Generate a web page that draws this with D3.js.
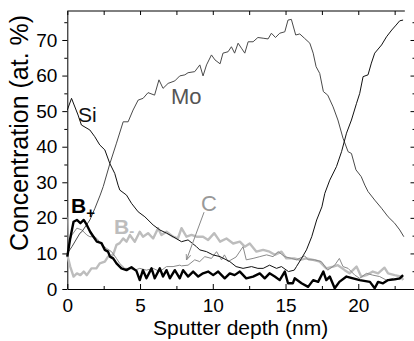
<!DOCTYPE html>
<html>
<head>
<meta charset="utf-8">
<script src="https://cdn.jsdelivr.net/npm/d3@7"></script>
<style>
  body { margin: 0; background: #fff; }
  svg { display: block; font-family: "Liberation Sans", Arial, sans-serif; }
</style>
</head>
<body>
<div id="chart"></div>
<script>
// depth (nm), concentration (at. %)
const siData = [[0,50.3],[0.29,53.6],[0.74,48.9],[0.97,46.1],[1.55,44.7],[1.89,42.8],[2.23,40.5],[2.58,39.1],[2.92,35.3],[3.26,32.5],[3.49,29.2],[3.61,27.8],[4.07,26.4],[4.41,24.1],[4.87,21.7],[5.33,20.3],[5.9,18.0],[6.36,16.6],[6.82,15.7],[7.27,14.7],[7.85,13.3],[8.3,13.8],[8.88,11.9],[9.1,11.0],[9.57,10.5],[10.0,9.6],[10.5,9.1],[11.17,7.7],[11.6,6.3],[12.08,5.8],[12.66,6.3],[13.1,5.8],[13.46,5.8],[13.9,6.7],[14.38,5.8],[14.72,6.3],[15.2,4.9],[15.6,5.3],[15.75,6.3],[16.1,8.6],[16.44,11.0],[16.8,14.7],[17.14,19.4],[17.5,23.1],[17.7,26.9],[18.04,30.6],[18.5,34.4],[18.85,38.6],[19.19,43.8],[19.53,47.5],[19.88,52.2],[20.1,55.0],[20.33,59.7],[20.67,60.2],[20.9,63.5],[21.13,66.3],[21.6,68.6],[21.94,70.9],[22.3,72.8],[22.6,74.2],[22.85,75.4],[23.08,75.6]];

const moData = [[0,10.0],[0.32,11.9],[0.87,15.7],[1.0,16.1],[1.55,19.4],[1.9,22.7],[2.26,26.4],[2.47,28.8],[2.93,35.3],[3.38,41.0],[3.84,47.0],[4.18,47.0],[4.52,50.3],[4.87,53.1],[5.21,53.6],[5.55,55.2],[6.0,54.5],[6.3,58.8],[6.58,56.4],[6.93,57.8],[7.39,58.5],[7.73,59.9],[8.08,60.2],[8.3,60.8],[8.76,61.1],[9.11,63.0],[9.33,59.9],[9.57,63.0],[9.91,65.8],[10.15,64.4],[10.5,63.3],[10.7,66.3],[11.05,66.7],[11.28,68.1],[11.5,66.3],[11.74,69.1],[11.97,67.7],[12.2,66.3],[12.43,69.5],[12.77,69.5],[13.1,70.7],[13.46,70.5],[13.8,70.3],[14.03,71.9],[14.31,70.7],[14.6,71.9],[14.95,72.3],[15.17,75.6],[15.4,75.8],[15.7,71.4],[15.98,71.7],[16.3,70.5],[16.67,69.1],[16.9,66.3],[17.1,62.5],[17.35,60.6],[17.6,55.5],[17.9,54.5],[18.27,51.2],[18.6,47.5],[18.95,42.4],[19.3,38.6],[19.53,38.1],[19.84,33.5],[20.2,31.6],[20.45,29.2],[20.67,27.4],[21.13,25.0],[21.6,22.7],[22.05,20.3],[22.5,18.5],[22.85,16.6],[23.13,14.7]];

const cData = [[0,20.3],[0.08,12.4],[0.32,15.2],[0.66,17.1],[1.0,16.6],[1.34,15.2],[1.55,14.7],[1.9,14.7],[2.12,13.8],[2.35,12.4],[2.7,11.4],[3.04,10.5],[3.38,8.6],[3.6,7.2],[3.95,5.8],[4.3,5.8],[4.64,5.3],[4.98,5.8],[5.44,5.3],[5.9,5.8],[6.36,4.9],[6.82,6.3],[7.27,6.3],[7.73,6.7],[7.85,6.5],[8.3,6.7],[8.76,8.2],[9.1,7.7],[9.45,9.1],[9.91,8.6],[10.26,10.5],[10.6,8.2],[10.8,9.6],[11.05,7.7],[11.6,9.0],[12.08,11.9],[12.3,8.2],[12.77,8.6],[13.23,9.1],[13.7,9.6],[14.14,9.1],[14.49,10.5],[14.95,9.1],[15.4,8.6],[15.75,8.2],[16.32,9.3],[16.55,8.2],[17.0,8.2],[17.46,7.7],[17.9,5.3],[18.38,6.7],[18.7,8.6],[18.95,6.3],[19.3,5.8],[19.76,3.9],[20.1,3.0],[20.56,4.4],[21.0,3.9],[21.47,3.5],[21.93,2.5],[22.4,3.0],[22.85,2.7],[23.08,3.5]];

const bMinusData = [[0,9.6],[0.2,6.3],[0.43,3.5],[0.66,4.4],[0.9,3.9],[1.13,4.9],[1.34,3.9],[1.66,5.8],[2.0,5.8],[2.23,7.2],[2.58,7.7],[2.8,9.1],[3.15,9.6],[3.38,12.4],[3.6,12.9],[3.84,14.2],[4.07,13.3],[4.3,15.2],[4.64,13.3],[4.98,16.1],[5.2,14.7],[5.55,15.7],[5.9,14.2],[6.24,17.1],[6.47,15.2],[6.82,16.1],[7.27,14.7],[7.6,14.2],[7.85,17.1],[8.19,14.7],[8.54,15.2],[8.88,14.7],[9.33,14.7],[9.68,13.8],[10.1,15.7],[10.5,13.3],[10.94,14.2],[11.4,12.8],[11.86,13.3],[12.2,11.9],[12.54,12.8],[13.0,10.5],[13.46,11.0],[13.9,10.5],[14.26,9.6],[14.72,10.5],[15.05,8.6],[15.6,8.6],[15.98,8.2],[16.44,8.6],[16.9,8.2],[17.35,7.7],[17.8,5.8],[18.27,6.3],[18.6,6.7],[19.07,5.3],[19.4,4.4],[19.88,6.3],[20.2,3.5],[20.56,3.9],[21.0,4.9],[21.36,4.4],[21.8,6.0],[22.05,4.4],[22.5,3.9],[22.96,3.5],[23.08,2.5]];

const bPlusData = [[0,9.1],[0.2,14.2],[0.43,18.9],[0.66,19.4],[0.9,18.5],[1.13,19.4],[1.34,18.0],[1.57,16.1],[1.8,14.7],[2.03,13.3],[2.35,12.9],[2.58,11.0],[2.8,10.5],[2.93,9.1],[3.15,8.6],[3.38,7.2],[3.72,5.8],[4.07,5.3],[4.41,6.1],[4.75,5.1],[4.98,2.5],[5.2,5.3],[5.44,3.0],[5.79,5.8],[6.01,3.0],[6.36,5.8],[6.58,3.5],[6.82,5.3],[7.05,3.0],[7.39,5.3],[7.73,3.0],[7.96,5.3],[8.3,3.5],[8.65,4.9],[9.0,3.5],[9.33,4.4],[9.68,4.9],[10.03,3.9],[10.37,4.9],[10.82,3.0],[11.17,4.4],[11.5,3.9],[11.86,4.9],[12.3,3.0],[12.77,3.5],[13.23,4.4],[13.57,3.0],[13.9,4.4],[14.26,3.5],[14.6,2.5],[14.95,4.9],[15.17,1.6],[15.5,1.6],[15.63,3.0],[16.1,1.6],[16.55,0.6],[16.9,2.5],[17.24,2.0],[17.6,4.9],[17.8,2.5],[18.04,3.5],[18.38,0.2],[18.7,2.0],[19.19,3.5],[19.64,3.0],[20.1,2.5],[20.8,2.0],[21.13,0.2],[21.36,2.0],[21.7,1.6],[22.05,2.5],[22.5,2.7],[22.85,3.0],[23.08,3.9]];

const xMajor = [0, 5, 10, 15, 20];
const xMinor = [2.5, 7.5, 12.5, 17.5, 22.5];
const yMajor = [0, 10, 20, 30, 40, 50, 60, 70];
const yMinor = [5, 15, 25, 35, 45, 55, 65, 75];

const width = 414, height = 341;
const margin = {left: 67.3, right: 414, top: 11, bottom: 289};

const svg = d3.select("#chart").append("svg")
    .attr("width", width)
    .attr("height", height);

const x = d3.scaleLinear().domain([0, 23.83]).range([margin.left, margin.right]);
const y = d3.scaleLinear().domain([0, 78.15]).range([margin.bottom, margin.top]);

// Axes
const tickFont = "19px";

const gLeft = svg.append("g").attr("transform", `translate(${margin.left},0)`);
gLeft.call(d3.axisLeft(y).tickValues(yMajor).tickSize(5).tickSizeOuter(0).tickPadding(5));
gLeft.append("g").call(d3.axisLeft(y).tickValues(yMinor).tickSize(3).tickFormat("")).select(".domain").remove();

const gBottom = svg.append("g").attr("transform", `translate(0,${margin.bottom})`);
gBottom.call(d3.axisBottom(x).tickValues(xMajor).tickSize(-5).tickSizeOuter(0).tickPadding(10));
gBottom.append("g").call(d3.axisBottom(x).tickValues(xMinor).tickSize(-3).tickFormat("")).select(".domain").remove();

const gTop = svg.append("g").attr("transform", `translate(0,${margin.top})`);
gTop.call(d3.axisTop(x).tickValues(xMajor.concat(xMinor)).tickSize(-4).tickFormat(""));
gTop.select(".domain").remove();
gTop.append("line")
    .attr("x1", x(0)).attr("x2", x(23.2))
    .attr("stroke", "#000").attr("stroke-width", 1);

const gRight = svg.append("g").attr("transform", `translate(${margin.right + 0.5},0)`);
gRight.call(d3.axisRight(y).tickValues(yMajor).tickSize(-4).tickFormat(""));
gRight.append("g").call(d3.axisRight(y).tickValues(yMinor).tickSize(-2).tickFormat(""));
gRight.selectAll(".domain").remove();

svg.selectAll(".tick text")
    .style("font-size", tickFont)
    .style("font-family", "'Liberation Sans', Arial, sans-serif")
    .attr("fill", "#000");
svg.selectAll(".domain, .tick line").attr("stroke", "#000");

// Axis titles
svg.append("text")
    .attr("x", (margin.left + margin.right) / 2)
    .attr("y", 335)
    .attr("text-anchor", "middle")
    .style("font-size", "21px")
    .text("Sputter depth (nm)");

svg.append("text")
    .attr("transform", "translate(28,133) rotate(-90)")
    .attr("text-anchor", "middle")
    .style("font-size", "25px")
    .text("Concentration (at. %)");

// Lines
const line = d3.line().x(d => x(d[0])).y(d => y(d[1]));

const series = [
    {data: bMinusData, color: "#bdbdbd", w: 2.4},
    {data: cData, color: "#8a8a8a", w: 1},
    {data: moData, color: "#4a4a4a", w: 1},
    {data: siData, color: "#111", w: 1},
    {data: bPlusData, color: "#000", w: 2.4}
];

svg.selectAll("path.series")
    .data(series)
    .join("path")
    .attr("class", "series")
    .attr("d", d => line(d.data))
    .attr("fill", "none")
    .attr("stroke", d => d.color)
    .attr("stroke-width", d => d.w)
    .attr("stroke-linejoin", "round");

// Labels
svg.append("text").attr("x", 78).attr("y", 122)
    .style("font-size", "21px").attr("fill", "#111").text("Si");

svg.append("text").attr("x", 171).attr("y", 104)
    .style("font-size", "22px").attr("fill", "#555").text("Mo");

svg.append("text").attr("x", 201).attr("y", 211)
    .style("font-size", "22px").attr("fill", "#999").text("C");

const bp = svg.append("text").attr("x", 71).attr("y", 213)
    .style("font-size", "21px").style("font-weight", "bold").attr("fill", "#000");
bp.append("tspan").text("B");
bp.append("tspan").attr("dy", 5).style("font-size", "15px").text("+");

const bm = svg.append("text").attr("x", 114).attr("y", 234)
    .style("font-size", "21px").style("font-weight", "bold").attr("fill", "#bdbdbd");
bm.append("tspan").text("B");
bm.append("tspan").attr("dy", 2).style("font-size", "15px").text("-");

// Arrow from C label
svg.append("defs").append("marker")
    .attr("id", "arr")
    .attr("viewBox", "0 0 10 10")
    .attr("refX", 9).attr("refY", 5)
    .attr("markerWidth", 6).attr("markerHeight", 6)
    .attr("orient", "auto")
    .append("path")
    .attr("d", "M0,1L10,5L0,9")
    .attr("fill", "none")
    .attr("stroke", "#888")
    .attr("stroke-width", 1.5);

svg.append("line")
    .attr("x1", x(9.4)).attr("y1", y(21.6))
    .attr("x2", x(8.2)).attr("y2", y(8.3))
    .attr("stroke", "#888")
    .attr("stroke-width", 1)
    .attr("marker-end", "url(#arr)");
</script>
</body>
</html>
